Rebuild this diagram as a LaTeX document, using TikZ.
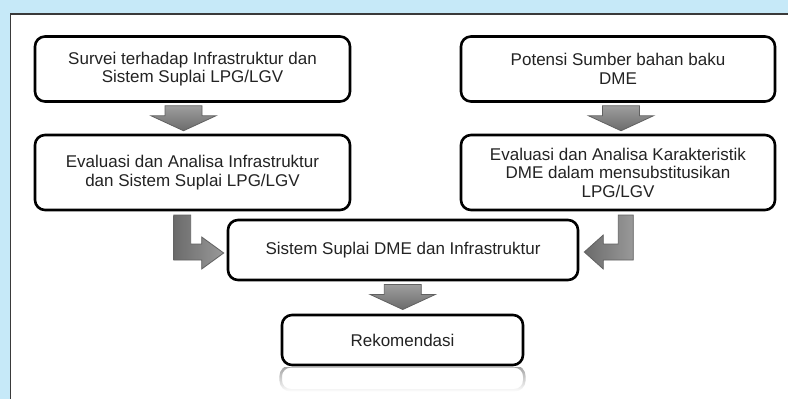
\documentclass[tikz,border=0pt]{standalone}
\usepackage{fontspec}
\setmainfont{Liberation Sans}
\usetikzlibrary{calc,fadings}

\definecolor{skyback}{RGB}{198,233,248}
\definecolor{framegray}{RGB}{58,58,58}
\definecolor{txtgray}{RGB}{35,35,35}

\tikzfading[name=reflectfade, top color=transparent!0, bottom color=transparent!100]

\tikzset{
  stepbox/.style={draw=black, line width=2.6pt, rounded corners=10pt, fill=white,
    align=center, inner sep=0pt, text=txtgray,
    font=\fontsize{17}{18.5}\selectfont},
  blockarrow/.style={top color=black!38, bottom color=black!58, draw=black!62, line width=0.8pt},
  sidearrow/.style={left color=black!58, right color=black!40, draw=black!62, line width=0.8pt},
  downarr/.pic={
    \path[blockarrow] (-18.5,-12.5) -- (18.5,-12.5) -- (18.5,-2.5) -- (32.5,-2.5)
      -- (0,12.5) -- (-32.5,-2.5) -- (-18.5,-2.5) -- cycle;
  },
  % bent arrow, origin at the tip, pointing right
  bentright/.pic={
    \path[sidearrow] (0,0) -- (-22,16) -- (-22,7) -- (-50,7) -- (-50,-38)
      -- (-33,-38) -- (-33,-9) -- (-22,-9) -- (-22,-16) -- cycle;
  },
  % bent arrow, origin at the tip, pointing left
  bentleft/.pic={
    \path[sidearrow] (0,0) -- (19,-17) -- (19,-8) -- (34,-8) -- (34,-37)
      -- (49,-37) -- (49,8) -- (19,8) -- (19,17) -- cycle;
  }
}

\begin{document}
\begin{tikzpicture}[x=1pt, y=-1pt]
  \useasboundingbox (0,0) rectangle (788,399);

  % panel
  \fill[skyback] (0,0) rectangle (788,399);
  \fill[white] (10.5,14) rectangle (790,401);
  \draw[framegray, line width=1.6pt] (10.5,401) -- (10.5,14) -- (790,14);

  % boxes
  \node[stepbox, minimum width=315pt, minimum height=65pt] (survei) at (192.5,69)
    {Survei terhadap Infrastruktur dan\\Sistem Suplai LPG/LGV};
  \node[stepbox, minimum width=315pt, minimum height=75pt] (evalinfra) at (192.5,172.5)
    {Evaluasi dan Analisa Infrastruktur\\dan Sistem Suplai LPG/LGV};
  \node[stepbox, minimum width=314pt, minimum height=65pt] (potensi) at (618,69)
    {Potensi Sumber bahan baku\\DME};
  \node[stepbox, minimum width=314pt, minimum height=75pt] (evaldme) at (618,172.5)
    {Evaluasi dan Analisa Karakteristik\\DME dalam mensubstitusikan\\LPG/LGV};
  \node[stepbox, minimum width=350pt, minimum height=60pt] (sistem) at (403,250)
    {Sistem Suplai DME dan Infrastruktur};
  \node[stepbox, minimum width=241pt, minimum height=50pt] (rekom) at (402.5,340)
    {Rekomendasi};

  % reflection under the last box
  \begin{scope}
    \clip (270,367.5) rectangle (540,392);
    \draw[gray!75, line width=2.6pt, rounded corners=10pt, path fading=reflectfade]
      (rekom.south west) rectangle ($(rekom.south east)+(0,24)$);
  \end{scope}

  % block arrows
  \pic at ($(survei.south)!0.5!(evalinfra.north)+(-9,0)$) {downarr};
  \pic at ($(potensi.south)!0.5!(evaldme.north)+(3,0)$) {downarr};
  \pic at ($(sistem.south)!0.5!(rekom.north)+(0,-0.5)$) {downarr};

  \coordinate (lefttip) at ($(sistem.west)+(-3,3)$);
  \coordinate (righttip) at ($(sistem.east)+(5,2)$);
  \pic at (lefttip) {bentright};
  \pic at (righttip) {bentleft};
\end{tikzpicture}
\end{document}
